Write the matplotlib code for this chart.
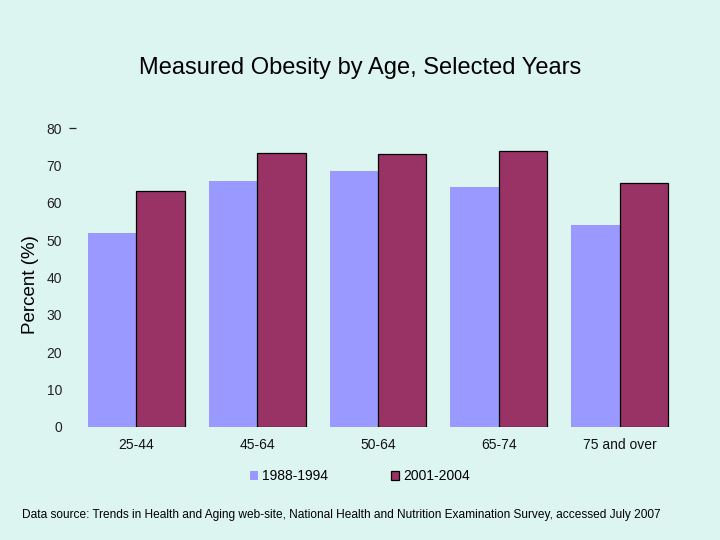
import matplotlib
matplotlib.use("Agg")
import matplotlib.pyplot as plt
import numpy as np

plt.rcParams['font.family'] = ['Liberation Sans', 'DejaVu Sans']

# data
ages = ['25-44', '45-64', '50-64', '65-74', '75 and over']
early = [52.0, 65.8, 68.4, 64.2, 54.0]   # 1988-1994
late = [63.1, 73.3, 73.0, 73.8, 65.2]    # 2001-2004
series = ['1988-1994', '2001-2004']
yticks = [0, 10, 20, 30, 40, 50, 60, 70, 80]

bg = '#DDF5F0'
c1 = '#9999FF'
c2 = '#993366'

fig = plt.figure(figsize=(7.2, 5.4), dpi=100, facecolor=bg)
ax = fig.add_axes([76/720, 1 - 427/540, (680-76)/720, (427-128)/540])
ax.set_facecolor(bg)

x = np.arange(len(ages))
w = 0.4
ax.bar(x - w/2, early, w, color=c1, label=series[0], linewidth=0)
ax.bar(x + w/2, late, w, color=c2, label=series[1], edgecolor='black', linewidth=0.9)

ax.set_xlim(-0.5, len(ages) - 0.5)
ax.set_ylim(0, 80)
ax.set_yticks(yticks)
ax.set_yticklabels([str(t) for t in yticks], fontsize=10, color='#222222')
ax.set_xticks(x)
ax.set_xticklabels(ages, fontsize=10, color='#111111')
ax.tick_params(axis='both', which='major', length=0)
ax.tick_params(axis='y', pad=10)
ax.tick_params(axis='x', pad=8)
# the little dash next to 80
ax.yaxis.remove_overlapping_locs = False
ax.set_yticks([80], minor=True)
ax.tick_params(axis='y', which='minor', length=5, width=0.9, labelleft=False, color='#222222')
for s in ax.spines.values():
    s.set_visible(False)

ax.set_ylabel('Percent (%)', fontsize=13.5)
ax.yaxis.set_label_coords(-0.062, 0.475)

fig.text(0.5, 1 - 68/540, 'Measured Obesity by Age, Selected Years',
         ha='center', va='center', fontsize=17)

ax.legend(loc='upper center', bbox_to_anchor=(0.47, -0.1), ncol=2, frameon=False,
          fontsize=10, handlelength=0.6, handleheight=0.6, handletextpad=0.3,
          columnspacing=4.5)

fig.text(22/720, 1 - 515/540,
         'Data source: Trends in Health and Aging web-site, National Health and Nutrition Examination Survey, accessed July 2007',
         ha='left', va='center', fontsize=8.6)

fig.savefig('out.png', dpi=100, facecolor=bg)
